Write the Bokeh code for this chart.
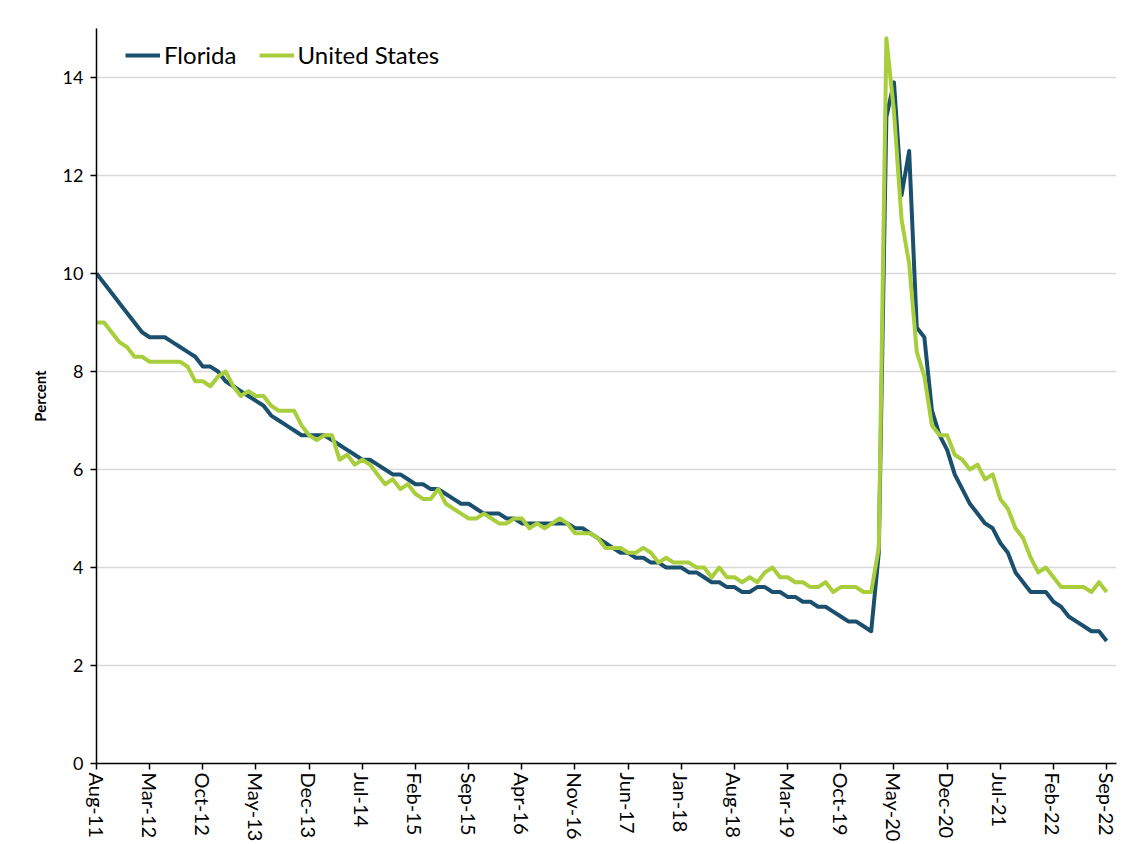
import pandas as pd
from bokeh.plotting import figure
from bokeh.models import ColumnDataSource, FixedTicker, Legend, LegendItem
from bokeh.embed import file_html
from bokeh.resources import INLINE

# Monthly categories, Aug-11 .. Sep-22
months = pd.date_range("2011-08-01", "2022-09-01", freq="MS").strftime("%b-%y").tolist()

florida = [
    10.0, 9.8, 9.6, 9.4, 9.2, 9.0, 8.8, 8.7, 8.7, 8.7,
    8.6, 8.5, 8.4, 8.3, 8.1, 8.1, 8.0, 7.8, 7.7, 7.6,
    7.5, 7.4, 7.3, 7.1, 7.0, 6.9, 6.8, 6.7, 6.7, 6.7,
    6.7, 6.6, 6.5, 6.4, 6.3, 6.2, 6.2, 6.1, 6.0, 5.9,
    5.9, 5.8, 5.7, 5.7, 5.6, 5.6, 5.5, 5.4, 5.3, 5.3,
    5.2, 5.1, 5.1, 5.1, 5.0, 5.0, 4.9, 4.9, 4.9, 4.9,
    4.9, 4.9, 4.9, 4.8, 4.8, 4.7, 4.6, 4.5, 4.4, 4.3,
    4.3, 4.2, 4.2, 4.1, 4.1, 4.0, 4.0, 4.0, 3.9, 3.9,
    3.8, 3.7, 3.7, 3.6, 3.6, 3.5, 3.5, 3.6, 3.6, 3.5,
    3.5, 3.4, 3.4, 3.3, 3.3, 3.2, 3.2, 3.1, 3.0, 2.9,
    2.9, 2.8, 2.7, 4.3, 13.2, 13.9, 11.6, 12.5, 8.9, 8.7,
    7.2, 6.7, 6.4, 5.9, 5.6, 5.3, 5.1, 4.9, 4.8, 4.5,
    4.3, 3.9, 3.7, 3.5, 3.5, 3.5, 3.3, 3.2, 3.0, 2.9,
    2.8, 2.7, 2.7, 2.5,
]

united_states = [
    9.0, 9.0, 8.8, 8.6, 8.5, 8.3, 8.3, 8.2, 8.2, 8.2,
    8.2, 8.2, 8.1, 7.8, 7.8, 7.7, 7.9, 8.0, 7.7, 7.5,
    7.6, 7.5, 7.5, 7.3, 7.2, 7.2, 7.2, 6.9, 6.7, 6.6,
    6.7, 6.7, 6.2, 6.3, 6.1, 6.2, 6.1, 5.9, 5.7, 5.8,
    5.6, 5.7, 5.5, 5.4, 5.4, 5.6, 5.3, 5.2, 5.1, 5.0,
    5.0, 5.1, 5.0, 4.9, 4.9, 5.0, 5.0, 4.8, 4.9, 4.8,
    4.9, 5.0, 4.9, 4.7, 4.7, 4.7, 4.6, 4.4, 4.4, 4.4,
    4.3, 4.3, 4.4, 4.3, 4.1, 4.2, 4.1, 4.1, 4.1, 4.0,
    4.0, 3.8, 4.0, 3.8, 3.8, 3.7, 3.8, 3.7, 3.9, 4.0,
    3.8, 3.8, 3.7, 3.7, 3.6, 3.6, 3.7, 3.5, 3.6, 3.6,
    3.6, 3.5, 3.5, 4.4, 14.8, 13.3, 11.1, 10.2, 8.4, 7.9,
    6.9, 6.7, 6.7, 6.3, 6.2, 6.0, 6.1, 5.8, 5.9, 5.4,
    5.2, 4.8, 4.6, 4.2, 3.9, 4.0, 3.8, 3.6, 3.6, 3.6,
    3.6, 3.5, 3.7, 3.5,
]

tick_labels = ["Aug-11", "Mar-12", "Oct-12", "May-13", "Dec-13", "Jul-14", "Feb-15",
               "Sep-15", "Apr-16", "Nov-16", "Jun-17", "Jan-18", "Aug-18", "Mar-19",
               "Oct-19", "May-20", "Dec-20", "Jul-21", "Feb-22", "Sep-22"]
y_ticks = [0, 2, 4, 6, 8, 10, 12, 14]

FONT = "Lato"
FL_COLOR = "#1B4F6E"
US_COLOR = "#A9CE3C"

idx = list(range(len(months)))
src = ColumnDataSource(dict(x=idx, month=months, fl=florida, us=united_states))

p = figure(width=1120, height=844, output_backend="svg", toolbar_location=None,
           x_range=(0, len(months) + 0.3), y_range=(0, 15),
           min_border_left=96, min_border_right=4, min_border_top=28, min_border_bottom=81,
           background_fill_color="white", border_fill_color="white")
p.outline_line_color = None

r_fl = p.line("x", "fl", source=src, line_color=FL_COLOR, line_width=4, line_join="round")
r_us = p.line("x", "us", source=src, line_color=US_COLOR, line_width=4, line_join="round")

# axes
tick_pos = [months.index(t) for t in tick_labels]
p.xaxis.ticker = FixedTicker(ticks=tick_pos)
p.xaxis.major_label_overrides = {i: t for i, t in zip(tick_pos, tick_labels)}
p.xaxis.major_label_orientation = "vertical"
p.yaxis.ticker = FixedTicker(ticks=y_ticks)

for ax in (p.xaxis, p.yaxis):
    ax.axis_line_color = "black"
    ax.axis_line_width = 1.5
    ax.major_tick_line_color = "black"
    ax.major_tick_line_width = 1.5
    ax.major_tick_out = 6
    ax.major_tick_in = 0
    ax.minor_tick_line_color = None
    ax.major_label_text_font = FONT
    ax.major_label_text_color = "black"

p.xaxis.major_label_text_font_size = "20px"
p.xaxis.major_label_standoff = 3
p.yaxis.major_label_text_font_size = "18px"
p.yaxis.major_label_standoff = 7

p.yaxis.axis_label = "Percent"
p.yaxis.axis_label_text_font = FONT
p.yaxis.axis_label_text_font_style = "bold"
p.yaxis.axis_label_text_font_size = "15px"
p.yaxis.axis_label_text_color = "black"
p.yaxis.axis_label_standoff = 11

p.xgrid.grid_line_color = None
p.ygrid.grid_line_color = "#d9d9d9"
p.ygrid.grid_line_width = 1.5

legend = Legend(items=[LegendItem(label="Florida", renderers=[r_fl]),
                       LegendItem(label="United States", renderers=[r_us])],
                orientation="horizontal", location=(29, 694),
                margin=0, padding=0, spacing=22, label_standoff=4,
                glyph_width=35, glyph_height=20,
                label_text_font=FONT, label_text_font_size="24px",
                label_text_color="black",
                border_line_color=None, background_fill_alpha=0)
p.add_layout(legend)

open("out.html", "w").write(file_html(p, INLINE))
